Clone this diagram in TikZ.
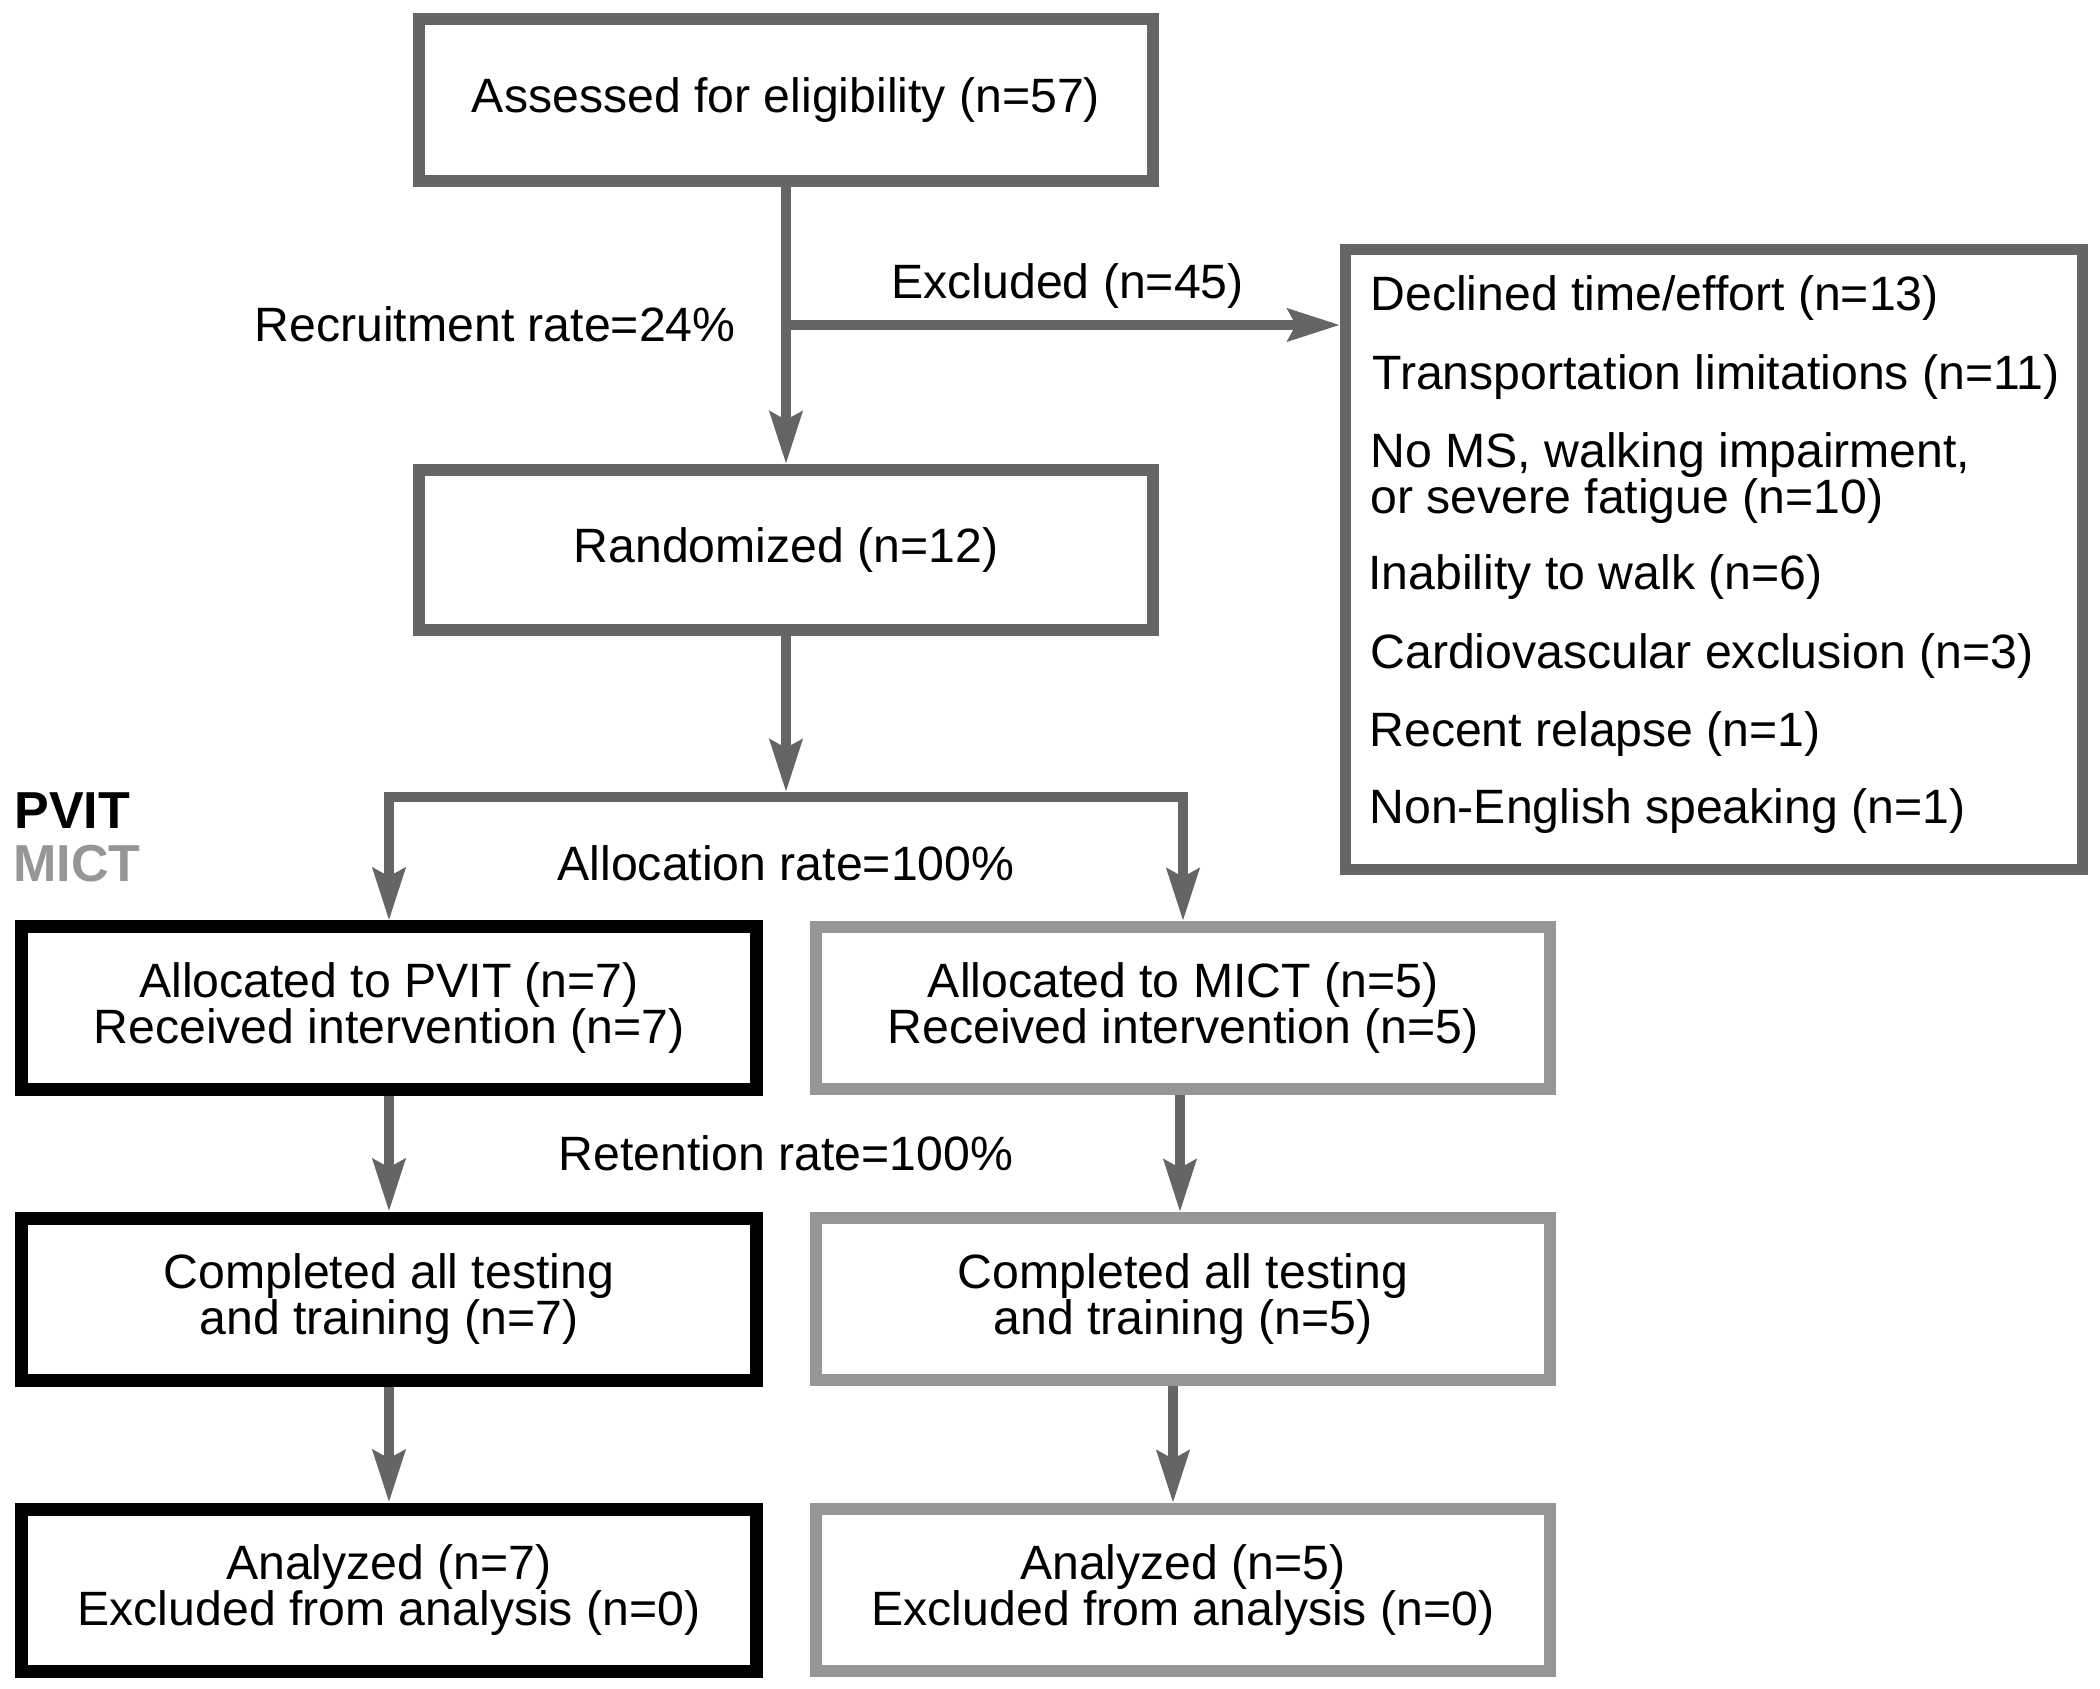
\documentclass[tikz,border=0pt]{standalone}
\usepackage{fontspec}
\setmainfont{Liberation Sans}
\usetikzlibrary{arrows.meta}
\definecolor{dgray}{HTML}{656565}
\definecolor{lgray}{HTML}{969696}
\begin{document}
\begin{tikzpicture}[x=0.5pt,y=-0.5pt,
  font=\fontsize{24.1}{22.75}\selectfont,
  box/.style={draw=dgray, line width=6pt, minimum width=367pt, minimum height=81pt,
    align=center, inner sep=0pt, fill=white},
  pbox/.style={box, draw=black, line width=6.5pt},
  mbox/.style={box, draw=lgray},
  arr/.style={draw=dgray, line width=5pt,
    -{Stealth[length=26pt, width=16pt, inset=4pt]}},
  lbl/.style={inner sep=0pt},
  exl/.style={inner sep=0pt, anchor=base west},
  grp/.style={inner sep=0pt, anchor=base west, font=\fontsize{26}{26}\selectfont\bfseries}]
\useasboundingbox (0,0) rectangle (2100,1689);

\node[box] (assess) at (786,100) {Assessed for eligibility (n=57)};
\node[box, minimum height=80pt] (rand) at (786,550) {Randomized (n=12)};
\node[box, line width=5.5pt, minimum width=368.5pt, minimum height=310pt] (excl) at (1714,560) {};

\node[exl] (e1) at (1370,311) {Declined time/effort (n=13)};
\node[exl] (e2) at (1372,390) {Transportation limitations (n=11)};
\node[exl] (e3) at (1370,468) {No MS, walking impairment,};
\node[exl] (e3b) at (1370,514) {or severe fatigue (n=10)};
\node[exl] (e4) at (1368,590) {Inability to walk (n=6)};
\node[exl] (e5) at (1370,669) {Cardiovascular exclusion (n=3)};
\node[exl] (e6) at (1369,747) {Recent relapse (n=1)};
\node[exl] (e7) at (1369,824) {Non-English speaking (n=1)};

\node[pbox, minimum width=367.5pt] (p1) at (389,1008) {Allocated to PVIT (n=7)\\Received intervention (n=7)};
\node[mbox] (m1) at (1183,1008) {Allocated to MICT (n=5)\\Received intervention (n=5)};
\node[pbox, minimum width=367.5pt] (p2) at (389,1299) {Completed all testing\\and training (n=7)};
\node[mbox] (m2) at (1183,1299) {Completed all testing\\and training (n=5)};
\node[pbox, minimum width=367.5pt] (p3) at (389,1590) {Analyzed (n=7)\\Excluded from analysis (n=0)};
\node[mbox] (m3) at (1183,1590) {Analyzed (n=5)\\Excluded from analysis (n=0)};

\node[lbl, anchor=base west] (exlab) at (891,299) {Excluded (n=45)};
\node[lbl, anchor=base east] (rec) at (736,342) {Recruitment rate=24\%};
\node[lbl, anchor=base] (alloc) at (786,881) {Allocation rate=100\%};
\node[lbl, anchor=base] (ret) at (786,1170) {Retention rate=100\%};
\node[grp] (pv) at (14,829) {PVIT};
\node[grp, text=lgray] (mc) at (13,882) {MICT};

\coordinate (j1) at (786,325);
\coordinate (split) at (786,797);

\draw[arr] (assess) -- (rand);
\draw[arr] (j1) -- (j1 -| excl.west);
\draw[arr, shorten >=2.5pt] (rand) -- (split);
\draw[arr] (split) -| (p1.north);
\draw[arr] (split) -| (m1.north);
\draw[arr] (p1) -- (p2);
\draw[arr] ([xshift=-1.5pt]m1.south) -- ([xshift=-1.5pt]m2.north);
\draw[arr] (p2) -- (p3);
\draw[arr] ([xshift=-5pt]m2.south) -- ([xshift=-5pt]m3.north);
\end{tikzpicture}
\end{document}
